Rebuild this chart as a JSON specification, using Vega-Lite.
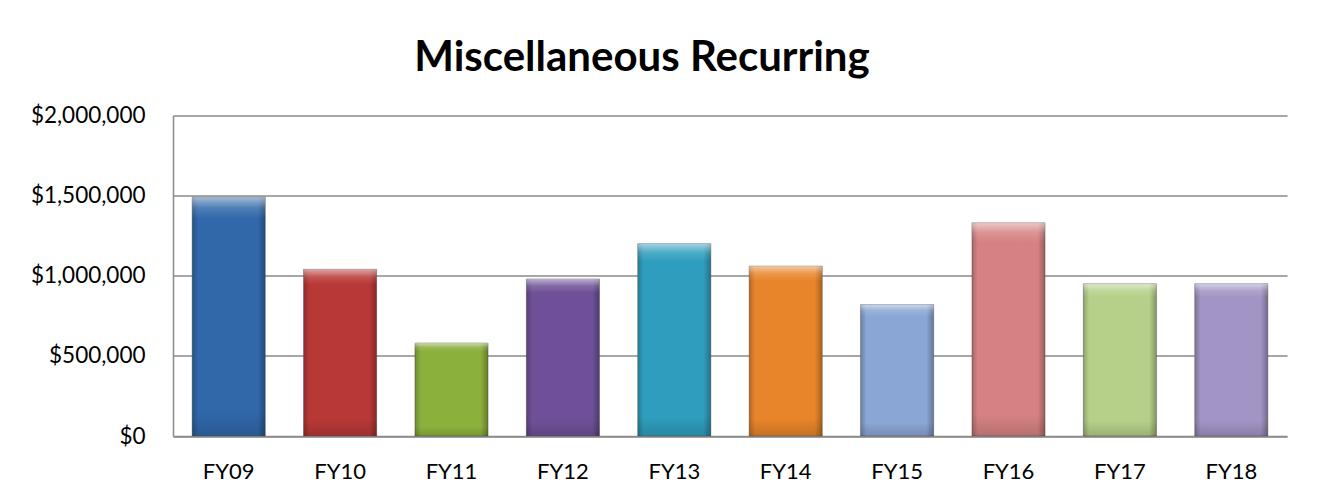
{
  "$schema": "https://vega.github.io/schema/vega-lite/v6.json",
  "width": 1114,
  "height": 320.5,
  "autosize": {"type": "none"},
  "padding": {"left": 173, "top": 115.5, "right": 30, "bottom": 64},
  "background": "white",
  "title": {
    "text": "Miscellaneous Recurring",
    "font": "Lato",
    "fontSize": 42,
    "fontWeight": "bold",
    "color": "black",
    "anchor": "middle",
    "dx": -88,
    "offset": 25
  },
  "data": {
    "values": [
      {"year": "FY09", "amount": 1490000},
      {"year": "FY10", "amount": 1040000},
      {"year": "FY11", "amount": 580000},
      {"year": "FY12", "amount": 980000},
      {"year": "FY13", "amount": 1200000},
      {"year": "FY14", "amount": 1060000},
      {"year": "FY15", "amount": 820000},
      {"year": "FY16", "amount": 1330000},
      {"year": "FY17", "amount": 950000},
      {"year": "FY18", "amount": 950000}
    ]
  },
  "encoding": {
    "x": {
      "field": "year",
      "type": "nominal",
      "sort": null,
      "title": null,
      "scale": {"paddingInner": 0.344, "paddingOuter": 0.172},
      "axis": {
        "labelAngle": 0,
        "labelFont": "Lato",
        "labelFontSize": 22,
        "labelColor": "black",
        "labelPadding": 25,
        "ticks": false,
        "domainColor": "#8a8a8a",
        "domainWidth": 1.5
      }
    },
    "y": {
      "field": "amount",
      "type": "quantitative",
      "title": null,
      "scale": {"domain": [0, 2000000], "nice": false},
      "axis": {
        "values": [0, 500000, 1000000, 1500000, 2000000],
        "format": "$,.0f",
        "labelFont": "Lato",
        "labelFontSize": 22.5,
        "labelColor": "black",
        "labelPadding": 28,
        "ticks": false,
        "grid": true,
        "gridColor": "#8a8a8a",
        "gridWidth": 1.4,
        "domainColor": "#8a8a8a",
        "domainWidth": 1.5
      }
    }
  },
  "layer": [
    {
      "mark": {"type": "bar", "stroke": "#555555", "strokeOpacity": 0.45, "strokeWidth": 1},
      "encoding": {
        "color": {
          "field": "year",
          "type": "nominal",
          "legend": null,
          "scale": {
            "domain": ["FY09", "FY10", "FY11", "FY12", "FY13", "FY14", "FY15", "FY16", "FY17", "FY18"],
            "range": ["#3068aa", "#b83836", "#8bb03c", "#6f5098", "#2f9ebe", "#e8842a", "#8aa6d4", "#d68282", "#b6d08a", "#a294c4"]
          }
        }
      }
    },
    {
      "mark": {
        "type": "bar",
        "fill": {
          "gradient": "linear",
          "x1": 0, "y1": 0, "x2": 1, "y2": 0,
          "stops": [
            {"offset": 0, "color": "rgba(0,0,0,0.22)"},
            {"offset": 0.08, "color": "rgba(0,0,0,0.0)"},
            {"offset": 0.9, "color": "rgba(0,0,0,0.0)"},
            {"offset": 1, "color": "rgba(0,0,0,0.28)"}
          ]
        }
      }
    },
    {
      "mark": {
        "type": "bar",
        "fill": {
          "gradient": "linear",
          "x1": 0, "y1": 0, "x2": 0, "y2": 1,
          "stops": [
            {"offset": 0, "color": "rgba(255,255,255,0.55)"},
            {"offset": 0.045, "color": "rgba(255,255,255,0.15)"},
            {"offset": 0.09, "color": "rgba(255,255,255,0.0)"},
            {"offset": 0.9, "color": "rgba(0,0,0,0.0)"},
            {"offset": 1, "color": "rgba(0,0,0,0.15)"}
          ]
        }
      }
    }
  ],
  "config": {
    "view": {"stroke": null}
  }
}
